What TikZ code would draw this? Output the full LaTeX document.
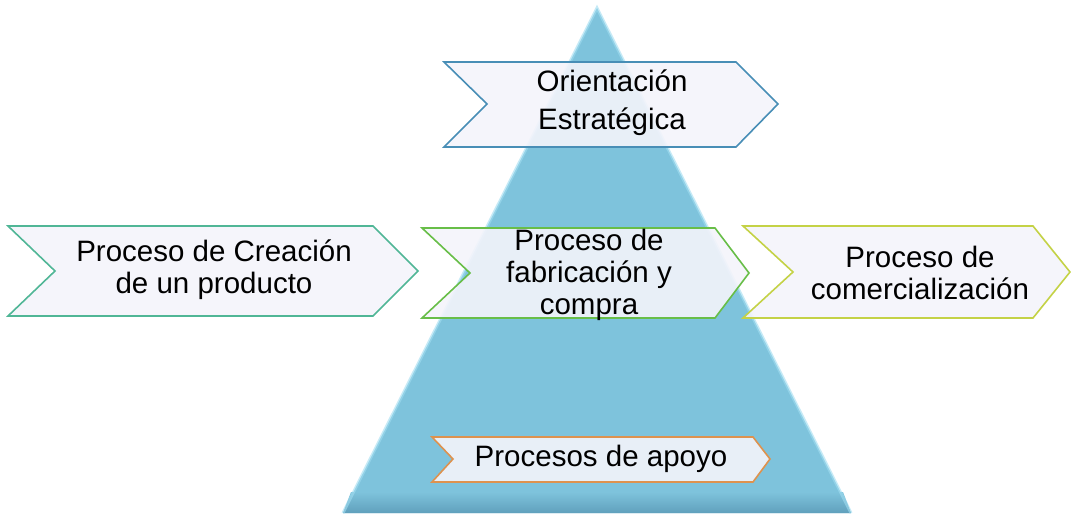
\documentclass[tikz,border=0pt]{standalone}
\usepackage{fontspec}
\setmainfont{Liberation Sans}
\begin{document}
\begin{tikzpicture}[x=1pt,y=-1pt,
  chev/.style={line width=1.6pt, line join=miter, fill=chevfill, fill opacity=0.9},
  lbl/.style={align=center, font=\fontsize{29.5}{32}\selectfont, inner sep=0pt},
]
\definecolor{pyr}{RGB}{126,195,220}
\definecolor{pyrdark}{RGB}{96,160,188}
\definecolor{pyrlight}{RGB}{160,220,240}
\definecolor{chevfill}{RGB}{244,244,251}
\definecolor{cblue}{RGB}{72,142,182}
\definecolor{cteal}{RGB}{80,182,150}
\definecolor{cgreen}{RGB}{104,190,72}
\definecolor{cyellow}{RGB}{196,210,70}
\definecolor{corange}{RGB}{222,146,78}
\useasboundingbox (0,0) rectangle (1071,514);
% pyramid
\coordinate (apex) at (597,8);
\coordinate (bl) at (343,513);
\coordinate (br) at (851,513);
\fill[pyr] (apex) -- (br) -- (bl) -- cycle;
\shade[top color=pyr, bottom color=pyrdark] (351,492) -- (843,492) -- (br) -- (bl) -- cycle;
\draw[pyrlight, line width=3pt, opacity=0.6] (bl) -- (apex) -- (br);
% chevrons
\draw[chev, draw=cblue] (444,62) -- (736,62) -- (778,104) -- (736,147) -- (444,147) -- (487,104) -- cycle;
\draw[chev, draw=cteal] (8,226) -- (373,226) -- (418,271) -- (373,316) -- (8,316) -- (55,271) -- cycle;
\draw[chev, draw=cgreen] (422,228) -- (715,228) -- (749,273) -- (715,318) -- (422,318) -- (470,273) -- cycle;
\draw[chev, draw=cyellow] (743,226) -- (1033,226) -- (1070,272) -- (1033,318) -- (743,318) -- (793,272) -- cycle;
\draw[chev, draw=corange] (432,437) -- (753,437) -- (770,459) -- (753,482) -- (432,482) -- (453,459) -- cycle;
% labels
\node[lbl, font=\fontsize{29.5}{38}\selectfont] (orient) at (612,103) {Orientación\\Estratégica};
\node[lbl] (crea) at (214,270) {Proceso de Creación\\de un producto};
\node[lbl] (fab) at (589,275) {Proceso de\\fabricación y\\compra};
\node[lbl] (com) at (920,273) {Proceso de\\comercialización};
\node[lbl] (apoyo) at (601,459) {Procesos de apoyo};
\end{tikzpicture}
\end{document}
